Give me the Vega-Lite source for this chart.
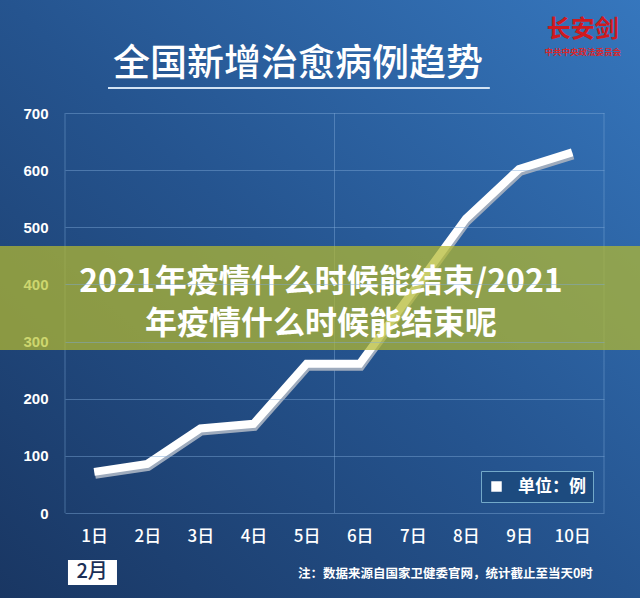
{
  "$schema": "https://vega.github.io/schema/vega-lite/v6.json",
  "width": 539,
  "height": 400,
  "autosize": {"type": "none"},
  "padding": {"left": 65, "top": 113, "right": 36, "bottom": 85},
  "background": "#24528c",
  "config": {
    "view": {"stroke": null},
    "font": "Noto Sans CJK SC"
  },
  "data": {
    "values": [
      {"day": 1, "value": 72, "unit": "单位：例"},
      {"day": 2, "value": 86, "unit": "单位：例"},
      {"day": 3, "value": 148, "unit": "单位：例"},
      {"day": 4, "value": 156, "unit": "单位：例"},
      {"day": 5, "value": 261, "unit": "单位：例"},
      {"day": 6, "value": 261, "unit": "单位：例"},
      {"day": 7, "value": 388, "unit": "单位：例"},
      {"day": 8, "value": 515, "unit": "单位：例"},
      {"day": 9, "value": 602, "unit": "单位：例"},
      {"day": 10, "value": 631, "unit": "单位：例"}
    ]
  },
  "layer": [
    {
      "data": {"values": [{}]},
      "mark": {
        "type": "rect",
        "color": {
          "gradient": "linear", "x1": 1, "y1": 0, "x2": 0, "y2": 1,
          "stops": [
            {"offset": 0, "color": "#3677be"},
            {"offset": 0.5, "color": "#25548f"},
            {"offset": 1, "color": "#193662"}
          ]
        }
      },
      "encoding": {
        "x": {"datum": -0.8, "type": "quantitative"},
        "x2": {"datum": 11.35},
        "y": {"datum": -160, "type": "quantitative"},
        "y2": {"datum": 910}
      }
    },
    {
      "data": {"values": [{}]},
      "mark": {"type": "rule", "color": "#7fa9d8", "opacity": 0.45, "strokeWidth": 1},
      "encoding": {"x": {"datum": 0.45, "type": "quantitative"}}
    },
    {
      "data": {"values": [{}]},
      "mark": {"type": "rule", "color": "#7fa9d8", "opacity": 0.45, "strokeWidth": 1},
      "encoding": {"x": {"datum": 5.525, "type": "quantitative"}}
    },
    {
      "data": {"values": [{}]},
      "mark": {"type": "rule", "color": "#7fa9d8", "opacity": 0.45, "strokeWidth": 1},
      "encoding": {"x": {"datum": 10.6, "type": "quantitative"}}
    },
    {
      "data": {"values": [{}]},
      "mark": {"type": "text", "text": "全国新增治愈病例趋势", "font": "Noto Sans CJK SC", "fontSize": 37, "fontWeight": 500, "color": "#ffffff", "align": "center", "baseline": "middle"},
      "encoding": {
        "x": {"datum": 4.84, "type": "quantitative"},
        "y": {"datum": 784, "type": "quantitative"}
      }
    },
    {
      "data": {"values": [{}]},
      "mark": {"type": "rule", "color": "#d3e3f4", "strokeWidth": 2},
      "encoding": {
        "x": {"datum": 1.26, "type": "quantitative"},
        "x2": {"datum": 8.45},
        "y": {"datum": 743.75, "type": "quantitative"}
      }
    },
    {
      "data": {"values": [{}]},
      "mark": {"type": "text", "text": "长安剑", "font": "Noto Sans CJK SC", "fontSize": 24, "fontWeight": "bold", "color": "#cf1a1f", "align": "center", "baseline": "middle"},
      "encoding": {
        "x": {"datum": 10.2, "type": "quantitative"},
        "y": {"datum": 845, "type": "quantitative"}
      }
    },
    {
      "data": {"values": [{}]},
      "mark": {"type": "text", "text": "中共中央政法委员会", "font": "Noto Sans CJK SC", "fontSize": 8.5, "fontWeight": "bold", "color": "#d8272c", "align": "center", "baseline": "middle"},
      "encoding": {
        "x": {"datum": 10.2, "type": "quantitative"},
        "y": {"datum": 806, "type": "quantitative"}
      }
    },
    {
      "mark": {"type": "line", "color": "#9eabbd", "strokeWidth": 8, "yOffset": 3, "xOffset": 1},
      "encoding": {
        "x": {"field": "day", "type": "quantitative"},
        "y": {"field": "value", "type": "quantitative"}
      }
    },
    {
      "mark": {"type": "line", "strokeWidth": 8},
      "encoding": {
        "x": {
          "field": "day",
          "type": "quantitative",
          "scale": {"domain": [0.45, 10.6], "nice": false, "zero": false},
          "axis": {
            "values": [1, 2, 3, 4, 5, 6, 7, 8, 9, 10],
            "labelExpr": "datum.value + '日'",
            "title": null,
            "grid": false,
            "domain": false,
            "ticks": false,
            "tickSize": 0,
            "labelPadding": 15,
            "labelFont": "Noto Sans CJK SC",
            "labelFontSize": 17,
            "labelFontWeight": 500,
            "labelColor": "#ffffff",
            "labelFlush": false,
            "zindex": 1
          }
        },
        "y": {
          "field": "value",
          "type": "quantitative",
          "scale": {"domain": [0, 700], "nice": false},
          "axis": {
            "values": [0, 100, 200, 300, 400, 500, 600, 700],
            "title": null,
            "grid": true,
            "gridColor": "#7fa9d8",
            "gridOpacity": 0.45,
            "domain": false,
            "ticks": false,
            "tickSize": 0,
            "labelPadding": 17,
            "labelFont": "Liberation Sans",
            "labelFontSize": 15,
            "labelFontWeight": "bold",
            "labelColor": {
              "condition": {"test": "datum.value == 300 || datum.value == 400", "value": "#cdd66e"},
              "value": "#ffffff"
            },
            "zindex": 1
          }
        },
        "color": {
          "field": "unit",
          "type": "nominal",
          "scale": {"range": ["#ffffff"]},
          "legend": {
            "title": null,
            "orient": "none",
            "legendX": 416,
            "legendY": 358,
            "fillColor": "#1d4b7f",
            "strokeColor": "#73a9c9",
            "padding": 7,
            "symbolType": "square",
            "symbolSize": 110,
            "symbolFillColor": "#ffffff",
            "symbolStrokeColor": "#ffffff",
            "symbolStrokeWidth": 0,
            "labelFont": "Noto Sans CJK SC",
            "labelFontSize": 17,
            "labelFontWeight": "bold",
            "labelColor": "#ffffff",
            "labelOffset": 13
          }
        }
      }
    },
    {
      "data": {"values": [{}]},
      "mark": {"type": "rect", "color": "#b4b930", "opacity": 0.73},
      "encoding": {
        "x": {"datum": -0.8, "type": "quantitative"},
        "x2": {"datum": 11.35},
        "y": {"datum": 285.2, "type": "quantitative"},
        "y2": {"datum": 467.2}
      }
    },
    {
      "data": {"values": [{}]},
      "mark": {"type": "text", "text": "2021年疫情什么时候能结束/2021", "font": "Noto Sans CJK SC", "fontSize": 32, "fontWeight": "bold", "color": "#ffffff", "align": "center", "baseline": "middle"},
      "encoding": {
        "x": {"datum": 5.27, "type": "quantitative"},
        "y": {"datum": 405, "type": "quantitative"}
      }
    },
    {
      "data": {"values": [{}]},
      "mark": {"type": "text", "text": "年疫情什么时候能结束呢", "font": "Noto Sans CJK SC", "fontSize": 32, "fontWeight": "bold", "color": "#ffffff", "align": "center", "baseline": "middle"},
      "encoding": {
        "x": {"datum": 5.27, "type": "quantitative"},
        "y": {"datum": 331, "type": "quantitative"}
      }
    },
    {
      "data": {"values": [{}]},
      "mark": {"type": "rect", "color": "#ffffff"},
      "encoding": {
        "x": {"datum": 0.506, "type": "quantitative"},
        "x2": {"datum": 1.429},
        "y": {"datum": -126, "type": "quantitative"},
        "y2": {"datum": -82.3}
      }
    },
    {
      "data": {"values": [{}]},
      "mark": {"type": "text", "text": "2月", "font": "Noto Sans CJK SC", "fontSize": 20, "fontWeight": 500, "color": "#1b2f57", "align": "center", "baseline": "middle"},
      "encoding": {
        "x": {"datum": 0.96, "type": "quantitative"},
        "y": {"datum": -104, "type": "quantitative"}
      }
    },
    {
      "data": {"values": [{}]},
      "mark": {"type": "text", "text": "注：数据来源自国家卫健委官网，统计截止至当天0时", "font": "Noto Sans CJK SC", "fontSize": 12.5, "fontWeight": "bold", "color": "#ffffff", "align": "right", "baseline": "middle"},
      "encoding": {
        "x": {"datum": 10.39, "type": "quantitative"},
        "y": {"datum": -106.8, "type": "quantitative"}
      }
    }
  ]
}
